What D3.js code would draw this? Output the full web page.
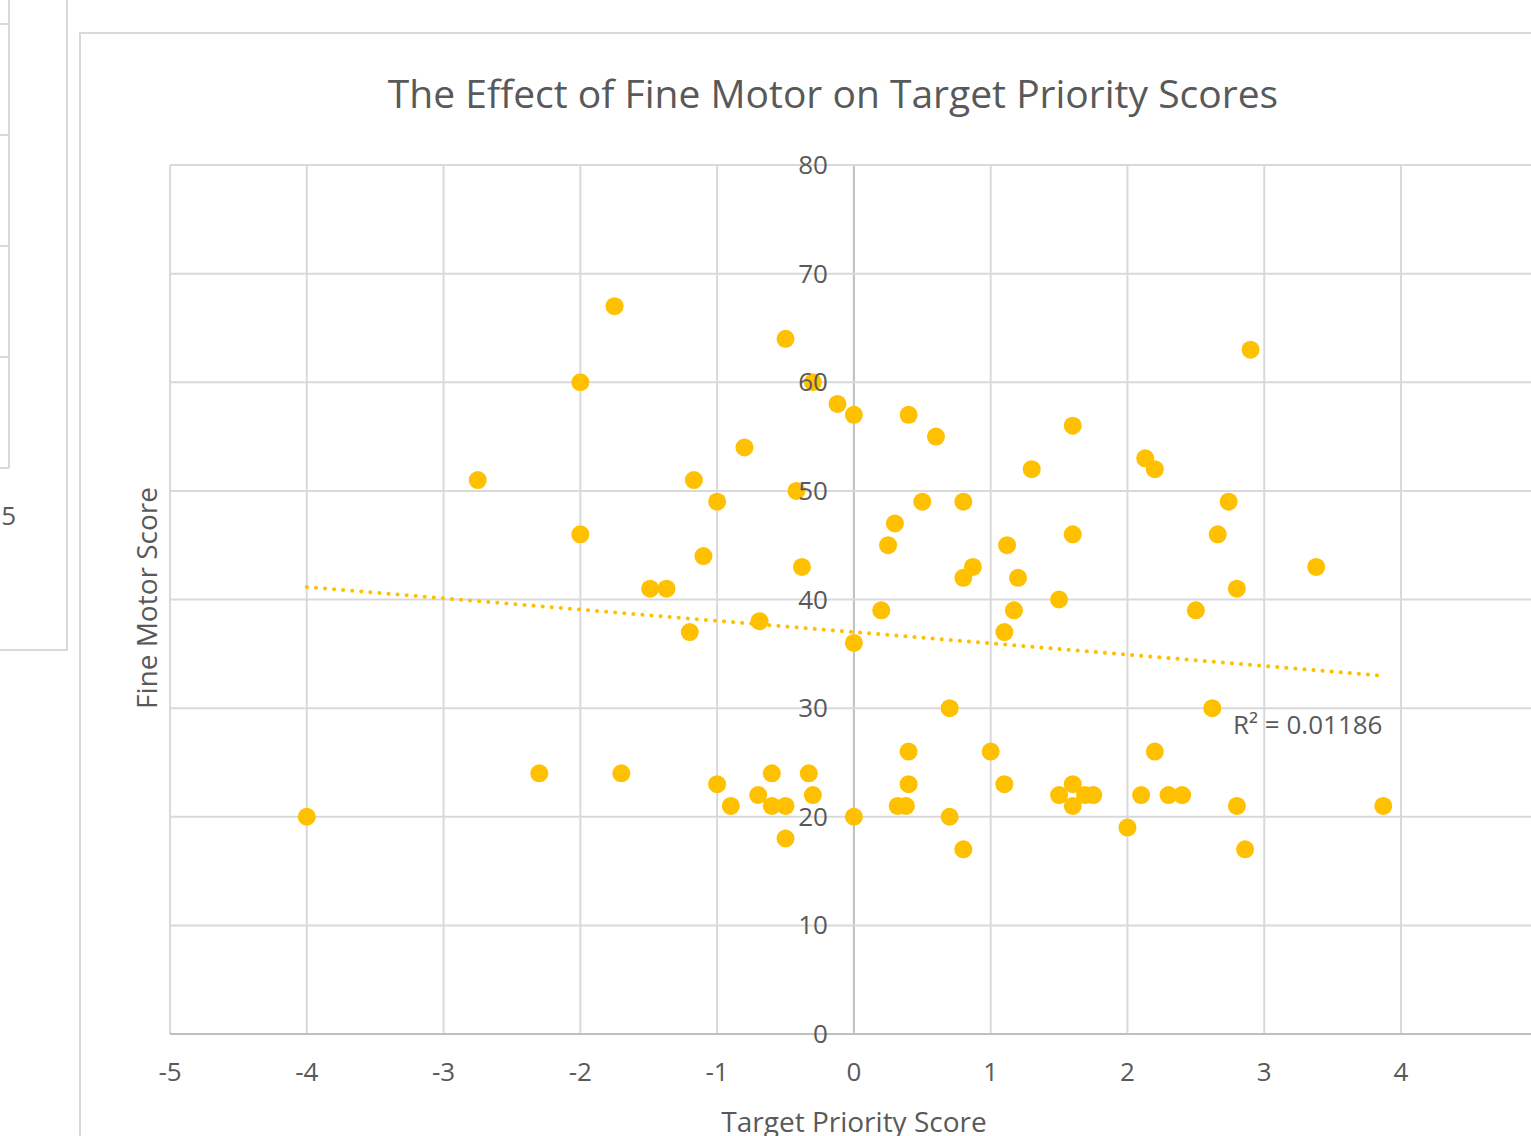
<!DOCTYPE html>
<html>
<head>
<meta charset="utf-8">
<script src="https://cdn.jsdelivr.net/npm/d3@7.9.0/dist/d3.min.js"></script>
<style>
  html, body { margin: 0; padding: 0; background: #fff; }
  svg { display: block; font-family: "Open Sans", "Noto Sans", sans-serif; }
</style>
</head>
<body>
<svg id="chart" width="1531" height="1136"></svg>
<script>
// target priority score (x) and fine motor score (y)
const targetPriority = [
  -1.75, -0.5, 2.9, -2, -0.3, -0.12, 0, 0.4, 0.6, 1.6,
  -0.8, 2.13, 2.2, 1.3, -2.75, -1.17, -0.42, -1, 0.5, 0.8,
  2.74, -2, 0.3, 1.6, 2.66, 0.25, 1.12, -1.1, -0.38, 0.87,
  3.38, 0.8, 1.2, -1.49, -1.37, 2.8, 1.5, 0.2, 1.17, 2.5,
  -0.69, -1.2, 1.1, 0, 0.7, 2.62, 0.4, 1.0, 2.2, -2.3,
  -1.7, -0.6, -0.33, -1, 0.4, 1.1, 1.6, -0.7, -0.3, 1.5,
  1.69, 1.75, 2.1, 2.3, 2.4, -0.9, -0.6, -0.5, 0.32, 0.38,
  1.6, 2.8, 3.87, -4, 0, 0.7, 2.0, -0.5, 0.8, 2.86
];
const fineMotor = [
  67, 64, 63, 60, 60, 58, 57, 57, 55, 56,
  54, 53, 52, 52, 51, 51, 50, 49, 49, 49,
  49, 46, 47, 46, 46, 45, 45, 44, 43, 43,
  43, 42, 42, 41, 41, 41, 40, 39, 39, 39,
  38, 37, 37, 36, 30, 30, 26, 26, 26, 24,
  24, 24, 24, 23, 23, 23, 23, 22, 22, 22,
  22, 22, 22, 22, 22, 21, 21, 21, 21, 21,
  21, 21, 21, 20, 20, 20, 19, 18, 17, 17
];
const xTicks = [-5, -4, -3, -2, -1, 0, 1, 2, 3, 4, 5];
const yTicks = [0, 10, 20, 30, 40, 50, 60, 70, 80];
const rSquaredLabel = 'R² = 0.01186';

const svg = d3.select('#chart');
const grid = '#d9d9d9';
const textColor = '#595959';
const dotColor = '#ffc000';

// neighbouring chart, cut off at the left edge
const left = svg.append('g');
left.append('path')
  .attr('d', 'M67,0 V650 H-5')
  .attr('fill', 'none').attr('stroke', grid).attr('stroke-width', 2);
left.append('line')
  .attr('x1', 9).attr('x2', 9).attr('y1', 0).attr('y2', 468)
  .attr('stroke', grid).attr('stroke-width', 2);
[24, 135, 246, 357, 468].forEach((y) => {
  left.append('line')
    .attr('x1', -2).attr('x2', 9).attr('y1', y).attr('y2', y)
    .attr('stroke', grid).attr('stroke-width', 2);
});
left.append('text')
  .attr('x', 16).attr('y', 525)
  .attr('text-anchor', 'end')
  .attr('font-size', 26).attr('fill', textColor)
  .text('5');

// chart frame
svg.append('path')
  .attr('d', 'M80,1140 V33 H1540')
  .attr('fill', 'none').attr('stroke', grid).attr('stroke-width', 2);

const x = d3.scaleLinear().domain([-5, 5]).range([170, 1537.8]);
const y = d3.scaleLinear().domain([0, 80]).range([1034, 165]);

// gridlines
svg.append('g')
  .selectAll('line.v')
  .data(xTicks)
  .join('line')
  .attr('x1', (d) => x(d)).attr('x2', (d) => x(d))
  .attr('y1', y(80)).attr('y2', y(0))
  .attr('stroke', (d) => (d === 0 ? '#bfbfbf' : grid))
  .attr('stroke-width', 2);

svg.append('g')
  .selectAll('line.h')
  .data(yTicks)
  .join('line')
  .attr('x1', x(-5)).attr('x2', x(5))
  .attr('y1', (d) => y(d)).attr('y2', (d) => y(d))
  .attr('stroke', (d) => (d === 0 ? '#bfbfbf' : grid))
  .attr('stroke-width', 2);

// title
svg.append('text')
  .attr('x', 833).attr('y', 108)
  .attr('text-anchor', 'middle')
  .attr('font-size', 39).attr('fill', textColor)
  .text('The Effect of Fine Motor on Target Priority Scores');

// trendline (least squares on the points)
const n = targetPriority.length;
const mx = d3.mean(targetPriority);
const my = d3.mean(fineMotor);
let sxy = 0, sxx = 0;
for (let i = 0; i < n; i++) {
  sxy += (targetPriority[i] - mx) * (fineMotor[i] - my);
  sxx += (targetPriority[i] - mx) ** 2;
}
const slope = sxy / sxx;
const intercept = my - slope * mx;
const [xMin, xMax] = d3.extent(targetPriority);
svg.append('line')
  .attr('x1', x(xMin)).attr('y1', y(intercept + slope * xMin))
  .attr('x2', x(xMax)).attr('y2', y(intercept + slope * xMax))
  .attr('stroke', dotColor).attr('stroke-width', 4)
  .attr('stroke-linecap', 'round')
  .attr('stroke-dasharray', '0.1 9');

// points
svg.append('g')
  .selectAll('circle')
  .data(d3.zip(targetPriority, fineMotor))
  .join('circle')
  .attr('cx', (d) => x(d[0]))
  .attr('cy', (d) => y(d[1]))
  .attr('r', 9)
  .attr('fill', dotColor);

// y tick labels sit beside the zero axis, drawn over the points
svg.append('g')
  .selectAll('text')
  .data(yTicks)
  .join('text')
  .attr('x', x(0) - 26)
  .attr('y', (d) => y(d) + 9)
  .attr('text-anchor', 'end')
  .attr('font-size', 26).attr('fill', textColor)
  .text((d) => d);

svg.append('g')
  .selectAll('text')
  .data(xTicks)
  .join('text')
  .attr('x', (d) => x(d))
  .attr('y', 1081)
  .attr('text-anchor', 'middle')
  .attr('font-size', 26).attr('fill', textColor)
  .text((d) => d);

// axis titles
svg.append('text')
  .attr('transform', 'translate(157,598) rotate(-90)')
  .attr('text-anchor', 'middle')
  .attr('font-size', 28).attr('fill', textColor)
  .text('Fine Motor Score');

svg.append('text')
  .attr('x', 854).attr('y', 1132)
  .attr('text-anchor', 'middle')
  .attr('font-size', 28).attr('fill', textColor)
  .text('Target Priority Score');

svg.append('text')
  .attr('x', 1233).attr('y', 734)
  .attr('font-size', 26).attr('fill', textColor)
  .text(rSquaredLabel);
</script>
</body>
</html>
